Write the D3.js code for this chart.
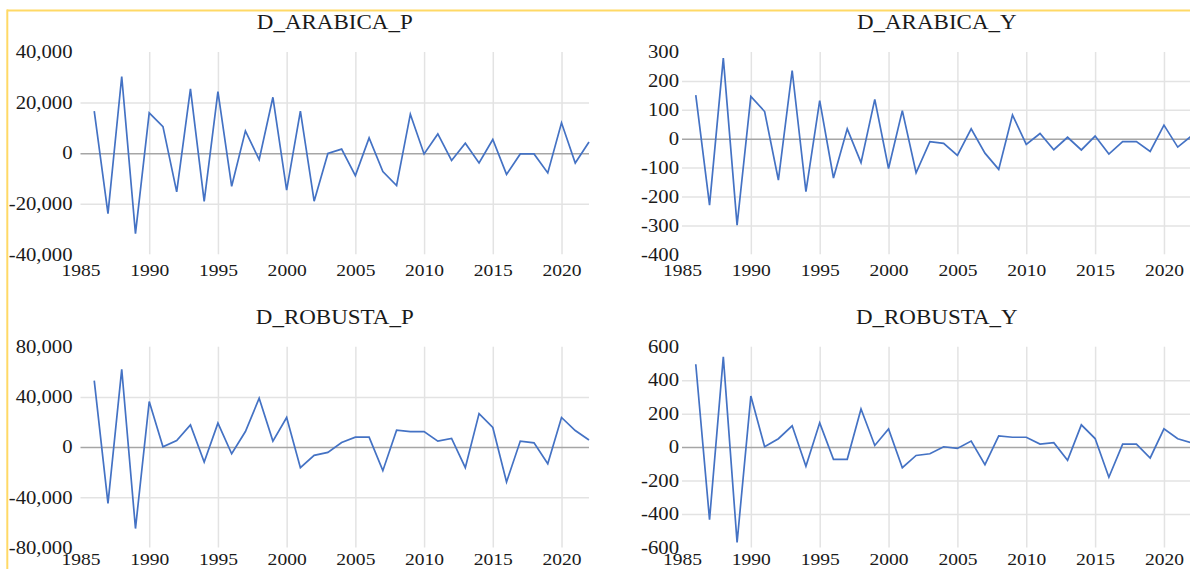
<!DOCTYPE html>
<html>
<head>
<meta charset="utf-8">
<script src="https://cdn.jsdelivr.net/npm/d3@7/dist/d3.min.js"></script>
<style>
  html, body { margin: 0; padding: 0; background: #fff; }
  svg { display: block; }
</style>
</head>
<body>
<svg id="chart" width="1190" height="569"></svg>
<script>
// ---- data ----
const years = d3.range(1986, 2023);
const xTicks = [1985, 1990, 1995, 2000, 2005, 2010, 2015, 2020];

const arabicaP = [16600, -23900, 30300, -31800, 15900, 10500, -15300, 25400, -19100, 24300,
  -13100, 8800, -2600, 22100, -14600, 16600, -19000, -100, 1600, -8900,
  6000, -7300, -12800, 15400, -300, 7600, -2900, 3900, -3900, 5400,
  -8400, -300, -300, -7800, 12000, -3900, 4400];
const arabicaY = [151, -230, 279, -299, 146, 94, -143, 236, -183, 132,
  -136, 34, -83, 136, -103, 97, -118, -10, -16, -58,
  34, -50, -106, 82, -20, 18, -38, 5, -39, 9,
  -53, -10, -10, -44, 47, -29, 10];
const robustaP = [53000, -44800, 62000, -64900, 36300, 300, 5300, 17700, -11900, 19100,
  -5300, 12400, 38900, 4800, 23600, -16400, -6600, -4200, 3700, 7900,
  7900, -18800, 13500, 12400, 12400, 4800, 6900, -16400, 26700, 15600,
  -27800, 4800, 3400, -13200, 23600, 13200, 5600];
const robustaY = [495, -434, 539, -570, 305, 2, 50, 127, -115, 145,
  -73, -73, 228, 10, 109, -123, -50, -40, 2, -8,
  36, -105, 67, 59, 59, 18, 26, -79, 133, 51,
  -180, 18, 18, -65, 109, 50, 26];

const ticksArabicaP = [-40000, -20000, 0, 20000, 40000];
const ticksArabicaY = [-400, -300, -200, -100, 0, 100, 200, 300];
const ticksRobustaP = [-80000, -40000, 0, 40000, 80000];
const ticksRobustaY = [-600, -400, -200, 0, 200, 400, 600];

const titles = ["D_ARABICA_P", "D_ARABICA_Y", "D_ROBUSTA_P", "D_ROBUSTA_Y"];

// ---- layout ----
const panels = [
  { title: titles[0], values: arabicaP, ticks: ticksArabicaP, L: 80.5, R: 589, T: 52, B: 254.3, labGap: 8, xlab: 21.5 },
  { title: titles[1], values: arabicaY, ticks: ticksArabicaY, L: 682, R: 1191.5, T: 52, B: 254.3, labGap: 3, xlab: 21.5 },
  { title: titles[2], values: robustaP, ticks: ticksRobustaP, L: 80.5, R: 589, T: 346.7, B: 547.5, labGap: 8, xlab: 17.5 },
  { title: titles[3], values: robustaY, ticks: ticksRobustaY, L: 682, R: 1191.5, T: 346.7, B: 547.5, labGap: 3, xlab: 17.5 }
];

const SX = 1.15;           // horizontal stretch of the text
const FONT = "Liberation Serif";
const TXT = "#1a1a1a";
const fmt = d => d3.format(",")(d).replace("\u2212", "-");

const svg = d3.select("#chart");

// yellow frame
svg.append("line").attr("x1", 7).attr("x2", 1190).attr("y1", 10.5).attr("y2", 10.5)
  .attr("stroke", "#FFD966").attr("stroke-width", 2);
svg.append("line").attr("x1", 7.3).attr("x2", 7.3).attr("y1", 9.5).attr("y2", 569)
  .attr("stroke", "#FFD966").attr("stroke-width", 2);

panels.forEach(p => {
  const x = d3.scaleLinear().domain([1985, 2022]).range([p.L, p.R]);
  const y = d3.scaleLinear().domain([p.ticks[0], p.ticks[p.ticks.length - 1]]).range([p.B, p.T]);
  const g = svg.append("g");

  // horizontal gridlines (interior ticks)
  const hTicks = p.ticks.slice(1, -1).filter(t => t !== 0);
  g.append("g")
    .attr("transform", `translate(${p.L},0)`)
    .call(d3.axisLeft(y).tickValues(hTicks).tickSize(-(p.R - p.L)).tickFormat(""))
    .call(a => a.select(".domain").remove())
    .call(a => a.selectAll("line").attr("stroke", "#e3e3e3").attr("stroke-width", 1.5));

  // vertical gridlines
  g.append("g")
    .attr("transform", `translate(0,${p.B})`)
    .call(d3.axisBottom(x).tickValues(xTicks.slice(1)).tickSize(-(p.B - p.T)).tickFormat(""))
    .call(a => a.select(".domain").remove())
    .call(a => a.selectAll("line").attr("stroke", "#e3e3e3").attr("stroke-width", 1.5));

  // zero line
  g.append("g")
    .attr("transform", `translate(${p.L},0)`)
    .call(d3.axisLeft(y).tickValues([0]).tickSize(-(p.R - p.L)).tickFormat(""))
    .call(a => a.select(".domain").remove())
    .call(a => a.selectAll("line").attr("stroke", "#a6a6a6").attr("stroke-width", 1.5));

  // y axis labels
  g.append("g")
    .attr("transform", `translate(${p.L},0)`)
    .call(d3.axisLeft(y).tickValues(p.ticks).tickSize(0).tickPadding(p.labGap).tickFormat(fmt))
    .call(a => a.select(".domain").remove())
    .call(a => a.selectAll("text")
      .attr("x", -p.labGap / SX)
      .attr("transform", `scale(${SX},1)`)
      .attr("font-family", FONT).attr("font-size", 18).attr("fill", TXT));

  // x axis labels
  g.append("g")
    .attr("transform", `translate(0,${p.B})`)
    .call(d3.axisBottom(x).tickValues(xTicks).tickSize(0).tickPadding(0).tickFormat(d3.format("d")))
    .call(a => a.select(".domain").remove())
    .call(a => a.selectAll("text")
      .attr("y", p.xlab).attr("dy", 0)
      .attr("transform", `scale(${SX},1)`)
      .attr("font-family", FONT).attr("font-size", 17).attr("fill", TXT));

  // data line
  const line = d3.line().x((d, i) => x(years[i])).y(d => y(d));
  g.append("path").datum(p.values)
    .attr("d", line)
    .attr("fill", "none").attr("stroke", "#4472C4").attr("stroke-width", 1.7)
    .attr("stroke-linejoin", "miter");

  // title
  const cx = (p.L + p.R) / 2;
  g.append("text")
    .attr("x", 0).attr("y", 0)
    .attr("transform", `translate(${cx},${p.T - 23}) scale(${SX},1)`)
    .attr("text-anchor", "middle")
    .attr("font-family", FONT).attr("font-size", 20).attr("fill", TXT)
    .text(p.title);
});
</script>
</body>
</html>
